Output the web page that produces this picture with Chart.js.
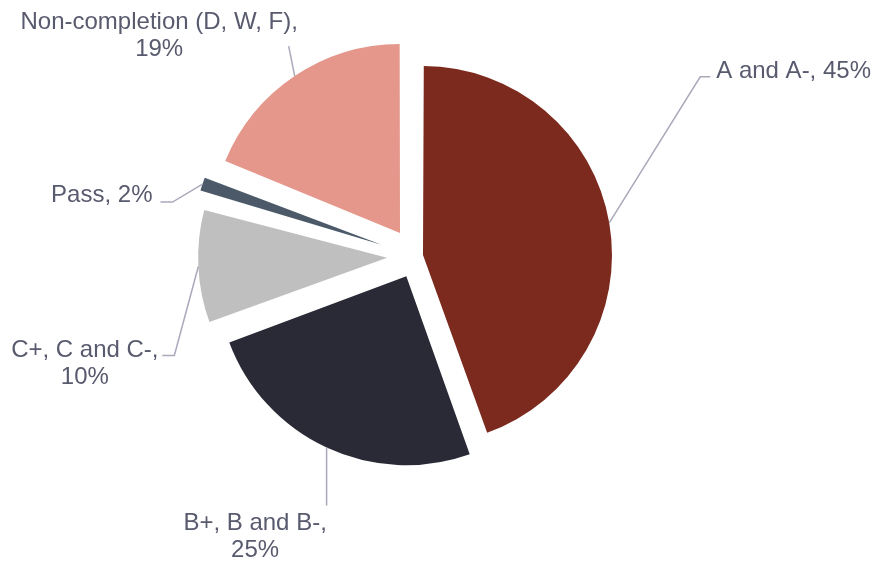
<!DOCTYPE html>
<html>
<head>
<meta charset="utf-8">
<script src="https://cdn.jsdelivr.net/npm/chart.js@4.4.1/dist/chart.umd.min.js"></script>
<style>
  body { margin: 0; background: #fff; }
  #wrap { width: 879px; height: 563px; }
</style>
</head>
<body>
<div id="wrap"><canvas id="gradeChart" width="879" height="563"></canvas></div>
<script>
// grade distribution
const categories = ['A and A-', 'B+, B and B-', 'C+, C and C-', 'Pass', 'Non-completion (D, W, F)'];
const shares = [45, 25, 10, 2, 19];
// how the label reads on the chart (line breaks as in the original)
const labelLines = [
  ['A and A-, 45%'],
  ['B+, B and B-,', '25%'],
  ['C+, C and C-,', '10%'],
  ['Pass, 2%'],
  ['Non-completion (D, W, F),', '19%']
];

const colors = ['#7D2A1E', '#292A35', '#BFBFBF', '#4B5968', '#E4978A'];
// chart.js moves an arc by offset/4 px
const explode = [30, 88, 114, 144, 112];
const pieRadius = 189;

// leader elbow (relative to the slice edge), tail, and text placement (relative to elbow)
const callouts = [
  { dx: 91, dy: -146, tail: 10, align: 'left', tx: 16, ty: 1 },
  { dx: 0, dy: 58, tail: 0, align: 'center', tx: -71.5, ty: 24 },
  { dx: -24, dy: 89, tail: -12, align: 'center', tx: -89.5, ty: 2 },
  { dx: -30, dy: 18, tail: -12, align: 'right', tx: -20, ty: 0 },
  { dx: -6, dy: -30, tail: 0, align: 'center', tx: -129.5, ty: -17 }
];

// offset also grows the radius of thin slices; pull it back so all slices share one radius
const evenRadius = {
  id: 'evenRadius',
  afterDatasetUpdate(chart, args) {
    args.meta.data.forEach(arc => {
      const o = (arc.options.offset || 0) / 4;
      const fix = 1 - Math.sin(Math.min(Math.PI, arc.circumference));
      arc.outerRadius = pieRadius - o * fix;
    });
  }
};

const calloutLabels = {
  id: 'calloutLabels',
  afterDatasetsDraw(chart) {
    const ctx = chart.ctx;
    const meta = chart.getDatasetMeta(0);
    ctx.save();
    ctx.font = '24px "Liberation Sans", Arial, sans-serif';
    ctx.fillStyle = '#585A6E';
    ctx.strokeStyle = '#A9A9BC';
    ctx.lineWidth = 1.5;
    ctx.textBaseline = 'alphabetic';
    meta.data.forEach((arc, i) => {
      const c = callouts[i];
      const mid = (arc.startAngle + arc.endAngle) / 2;
      const r = pieRadius + (arc.options.offset || 0) / 4;
      const sx = arc.x + Math.cos(mid) * r;
      const sy = arc.y + Math.sin(mid) * r;
      const ex = sx + c.dx, ey = sy + c.dy;
      ctx.beginPath();
      ctx.moveTo(sx, sy);
      ctx.lineTo(ex, ey);
      if (c.tail) ctx.lineTo(ex + c.tail, ey);
      ctx.stroke();
      ctx.textAlign = c.align;
      labelLines[i].forEach((line, k) => {
        ctx.fillText(line, ex + c.tx, ey + c.ty + k * 27);
      });
    });
    ctx.restore();
  }
};

new Chart(document.getElementById('gradeChart'), {
  type: 'pie',
  data: {
    labels: categories,
    datasets: [{
      data: shares,
      backgroundColor: colors,
      borderWidth: 0,
      offset: explode
    }]
  },
  options: {
    responsive: false,
    animation: false,
    devicePixelRatio: 1,
    radius: pieRadius,
    layout: { padding: { left: 215.6, right: 263.4, top: 56.3, bottom: 106.7 } },
    plugins: {
      legend: { display: false },
      tooltip: { enabled: false }
    }
  },
  plugins: [evenRadius, calloutLabels]
});
</script>
</body>
</html>
